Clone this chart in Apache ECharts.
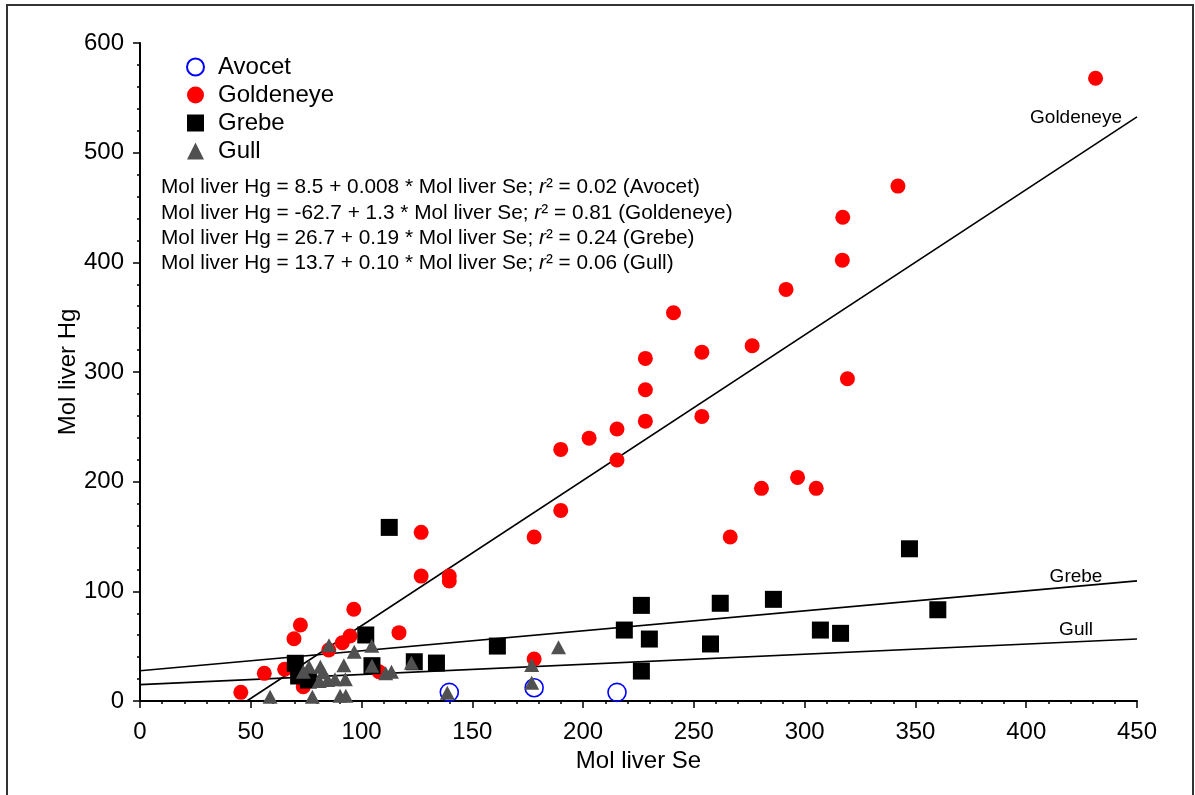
<!DOCTYPE html>
<html>
<head>
<meta charset="utf-8">
<script src="https://cdn.jsdelivr.net/npm/echarts@6/dist/echarts.min.js"></script>
<style>
html,body{margin:0;padding:0;background:#fff;}
#chart{width:1195px;height:795px;}
</style>
</head>
<body>
<div id="chart"></div>
<script>
// ---- Data ----
const speciesNames = ['Avocet', 'Goldeneye', 'Grebe', 'Gull'];

const avocetData = [[139.6, 7.9], [177.9, 12.1], [215.3, 7.9]];

const goldeneyeData = [
  [431.3, 567.9], [342.1, 469.5], [317.2, 441.1], [317.0, 402.0], [291.6, 375.3],
  [240.8, 354.0], [228.1, 312.4], [253.6, 318.1], [276.3, 323.9], [228.1, 283.8],
  [319.3, 293.8], [253.6, 259.5], [228.1, 255.2], [215.3, 248.0], [202.7, 239.7],
  [189.9, 229.4], [215.3, 219.7], [296.8, 203.9], [280.5, 193.9], [305.2, 193.9],
  [189.9, 173.8], [266.4, 149.5], [177.9, 149.5], [126.9, 153.8], [126.9, 113.9],
  [139.6, 113.9], [139.6, 109.4], [96.5, 83.6], [72.4, 69.3], [69.5, 56.8],
  [116.9, 62.3], [94.8, 59.3], [91.3, 53.1], [85.2, 46.5], [56.1, 25.2],
  [65.3, 28.9], [73.7, 13.0], [45.5, 7.9], [107.9, 26.7], [177.9, 38.3]
];

const grebeData = [
  [112.5, 158.3], [101.9, 60.2], [70.1, 34.4], [71.6, 22.8], [76.0, 19.1],
  [104.7, 32.2], [123.8, 35.8], [133.8, 34.6], [161.3, 50.1], [218.6, 64.7],
  [226.3, 87.2], [229.9, 56.5], [226.3, 27.3], [261.9, 89.1], [257.5, 52.0],
  [285.9, 92.7], [307.1, 64.7], [316.2, 61.7], [360.1, 83.2], [347.3, 138.8]
];

const gullData = [
  [85.3, 50.8], [104.6, 50.4], [96.7, 44.9], [92.0, 32.5], [104.7, 32.2],
  [122.5, 34.9], [76.3, 31.3], [81.4, 31.3], [73.7, 26.7], [82.6, 26.2],
  [110.9, 25.3], [113.5, 26.7], [80.9, 18.2], [84.7, 19.1], [88.0, 19.8],
  [92.7, 19.8], [58.7, 3.9], [77.8, 3.9], [90.3, 4.8], [92.9, 4.8],
  [138.7, 7.6], [188.9, 49.0], [176.8, 32.8], [176.8, 16.7]
];

// Fitted lines as drawn (intercept, slope)
const fitNames = ['Goldeneye', 'Grebe', 'Gull'];
const fitIntercepts = [-63.9, 27.6, 14.9];
const fitSlopes = [1.3256, 0.182, 0.0925];

// Printed regression equations
const eqSpecies = ['Avocet', 'Goldeneye', 'Grebe', 'Gull'];
const eqIntercepts = ['8.5', '-62.7', '26.7', '13.7'];
const eqSlopes = ['0.008', '1.3', '0.19', '0.10'];
const eqR2 = ['0.02', '0.81', '0.24', '0.06'];

// Axis ranges [min, max, interval]
const xAxisRange = [0, 450, 50];
const yAxisRange = [0, 600, 100];
const xAxisTitle = 'Mol liver Se';
const yAxisTitle = 'Mol liver Hg';

// ---- Chart ----
const FONT = '"Liberation Sans", Arial, Helvetica, sans-serif';
const chart = echarts.init(document.getElementById('chart'), null, {renderer: 'canvas'});

const labelOffsets = {Goldeneye: [-61, 1], Grebe: [-61, -4], Gull: [-61, -9]};

const fitSeries = fitNames.map((n, i) => {
  const b = fitIntercepts[i], a = fitSlopes[i];
  const x0 = Math.max(xAxisRange[0], b < 0 ? -b / a : xAxisRange[0]);
  const x1 = xAxisRange[1];
  return {
    name: n + ' fit',
    type: 'line',
    data: [[x0, b + a * x0], [x1, b + a * x1]],
    symbol: 'none',
    silent: true,
    z: 1,
    lineStyle: {color: '#000', width: 1.6},
    markPoint: {
      symbol: 'circle', symbolSize: 0, silent: true,
      data: [{coord: [x1, b + a * x1]}],
      label: {
        show: true, position: 'inside', formatter: n,
        offset: labelOffsets[n], color: '#000', fontSize: 19, fontFamily: FONT
      }
    }
  };
});

const eqLines = eqSpecies.map((s, i) =>
  'Mol liver Hg = ' + eqIntercepts[i] + ' + ' + eqSlopes[i] + ' * Mol liver Se; {i|r}² = ' + eqR2[i] + ' (' + s + ')'
);

const option = {
  backgroundColor: '#fff',
  animation: false,
  textStyle: {fontFamily: FONT},
  grid: {left: 140, right: 58, top: 43, bottom: 94, containLabel: false},
  title: {
    left: 156, top: 170,
    text: eqLines.join('\n'),
    textStyle: {
      fontFamily: FONT, fontSize: 20.8, fontWeight: 'normal', color: '#000', lineHeight: 25.3,
      rich: {i: {fontStyle: 'italic', fontFamily: FONT, fontSize: 20.8, color: '#000', lineHeight: 25.3}}
    }
  },
  legend: {
    data: speciesNames,
    orient: 'vertical',
    left: 181, top: 50,
    itemWidth: 17, itemHeight: 17, itemGap: 4,
    selectedMode: false,
    textStyle: {fontFamily: FONT, fontSize: 24, color: '#000', padding: [0, 0, 0, 9], lineHeight: 23}
  },
  xAxis: {
    type: 'value', min: xAxisRange[0], max: xAxisRange[1], interval: xAxisRange[2],
    name: xAxisTitle, nameLocation: 'middle', nameGap: 48, nameMoveOverlap: false,
    nameTextStyle: {fontFamily: FONT, fontSize: 24, color: '#000'},
    axisLine: {show: true, onZero: false, lineStyle: {color: '#000', width: 2}},
    axisTick: {show: true, inside: false, length: 7, lineStyle: {color: '#000', width: 1.5}},
    minorTick: {show: true, splitNumber: 5, length: 3, lineStyle: {color: '#000', width: 1.5}},
    axisLabel: {fontFamily: FONT, fontSize: 24, color: '#000', margin: 19},
    splitLine: {show: false}
  },
  yAxis: {
    type: 'value', min: yAxisRange[0], max: yAxisRange[1], interval: yAxisRange[2],
    name: yAxisTitle, nameLocation: 'middle', nameGap: 60, nameRotate: 90, nameMoveOverlap: false,
    nameTextStyle: {fontFamily: FONT, fontSize: 24, color: '#000'},
    axisLine: {show: true, onZero: false, lineStyle: {color: '#000', width: 2}},
    axisTick: {show: true, inside: false, length: 7, lineStyle: {color: '#000', width: 1.5}},
    minorTick: {show: true, splitNumber: 5, length: 3, lineStyle: {color: '#000', width: 1.5}},
    axisLabel: {fontFamily: FONT, fontSize: 24, color: '#000', margin: 16},
    splitLine: {show: false}
  },
  series: [
    ...fitSeries,
    {
      name: 'Avocet', type: 'scatter', data: avocetData, symbol: 'circle', symbolSize: 18, z: 2,
      itemStyle: {color: 'rgba(255,255,255,0)', borderColor: '#0000ff', borderWidth: 1.6, opacity: 1}
    },
    {
      name: 'Goldeneye', type: 'scatter', data: goldeneyeData, symbol: 'circle', symbolSize: 15, z: 3,
      itemStyle: {color: '#ff0000', opacity: 1}
    },
    {
      name: 'Grebe', type: 'scatter', data: grebeData, symbol: 'rect', symbolSize: 17, z: 4,
      itemStyle: {color: '#000000', opacity: 1}
    },
    {
      name: 'Gull', type: 'scatter', data: gullData, symbol: 'triangle', symbolSize: [15, 14], z: 5,
      itemStyle: {color: '#505050', opacity: 1}
    }
  ],
  graphic: [
    {type: 'rect', z: 100, silent: true,
     shape: {x: 7, y: 5, width: 1186, height: 800},
     style: {fill: 'none', stroke: '#333', lineWidth: 2}}
  ]
};
chart.setOption(option);
</script>
</body>
</html>
